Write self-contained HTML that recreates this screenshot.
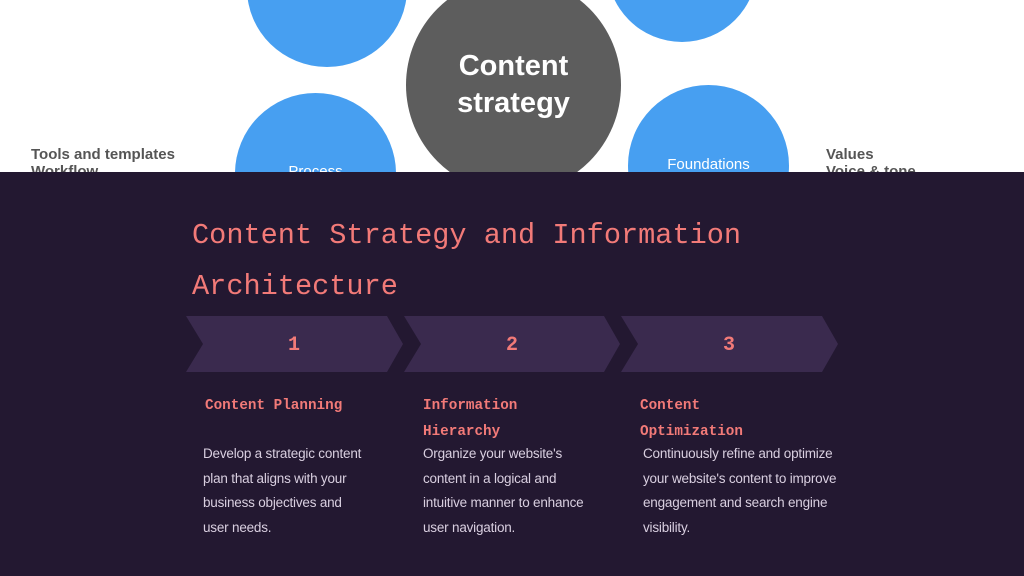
<!DOCTYPE html>
<html><head><meta charset="utf-8"><style>
body{margin:0;width:1024px;height:576px;overflow:hidden;background:#fff;font-family:"Liberation Sans",sans-serif;position:relative}
.top{position:absolute;left:0;top:0;width:1024px;height:172px;overflow:hidden;background:#fff}
.c{position:absolute;border-radius:50%}
.t{position:absolute;color:#555;font-size:15px;line-height:17px;font-weight:bold}
.bot{position:absolute;left:0;top:172px;width:1024px;height:404px;background:#231831}
h1{position:absolute;left:192px;top:210px;margin:0;font-family:"Liberation Mono",monospace;font-weight:normal;color:#f27a78;font-size:28.6px;line-height:51px}
.ch{position:absolute;top:316px}
.num{position:absolute;top:334px;width:20px;text-align:center;font-family:"Liberation Mono",monospace;font-weight:bold;color:#f27a78;font-size:20px}
.hd{position:absolute;top:393px;font-family:"Liberation Mono",monospace;font-weight:bold;color:#f27a78;font-size:14.3px;line-height:26px}
.p{position:absolute;top:442px;color:#d9cfe0;font-size:13.5px;line-height:24.7px;width:180px;letter-spacing:-0.2px}
</style></head><body>
<div class="top">
<div class="c" style="left:247px;top:-90px;width:160px;height:157px;background:#479ff1"></div>
<div class="c" style="left:607px;top:-108px;width:150px;height:150px;background:#479ff1"></div>
<div class="c" style="left:235px;top:93px;width:161px;height:161px;background:#479ff1"></div>
<div class="c" style="left:628px;top:85px;width:161px;height:161px;background:#479ff1"></div>
<div class="c" style="left:406px;top:-23px;width:215px;height:216px;background:#5d5d5d"></div>
<div style="position:absolute;left:406px;top:48px;width:215px;text-align:center;color:#fff;font-weight:bold;font-size:29px;line-height:37px">Content<br>strategy</div>
<div style="position:absolute;left:235px;top:163px;width:161px;text-align:center;color:#fff;font-size:15px">Process</div>
<div style="position:absolute;left:628px;top:156px;width:161px;text-align:center;color:#fff;font-size:15px">Foundations</div>
<div class="t" style="left:31px;top:146px">Tools and templates<br>Workflow</div>
<div class="t" style="left:826px;top:146px">Values<br>Voice &amp; tone</div>
</div>
<div class="bot"></div>
<h1>Content Strategy and Information<br>Architecture</h1>
<svg class="ch" style="left:0" width="1024" height="56">
<polygon fill="#3a2a4e" points="186,0 387,0 403,28 387,56 186,56 203,28"/>
<polygon fill="#3a2a4e" points="404,0 604,0 620,28 604,56 404,56 421,28"/>
<polygon fill="#3a2a4e" points="621,0 822,0 838,28 822,56 621,56 638,28"/>
</svg>
<div class="num" style="left:284px">1</div>
<div class="num" style="left:502px">2</div>
<div class="num" style="left:719px">3</div>
<div class="hd" style="left:205px">Content Planning</div>
<div class="hd" style="left:423px">Information<br>Hierarchy</div>
<div class="hd" style="left:640px">Content<br>Optimization</div>
<div class="p" style="left:203px;width:160px">Develop a strategic content plan that aligns with your business objectives and user needs.</div>
<div class="p" style="left:423px">Organize your website's content in a logical and intuitive manner to enhance user navigation.</div>
<div class="p" style="left:643px;width:215px">Continuously refine and optimize your website's content to improve engagement and search engine visibility.</div>
</body></html>
